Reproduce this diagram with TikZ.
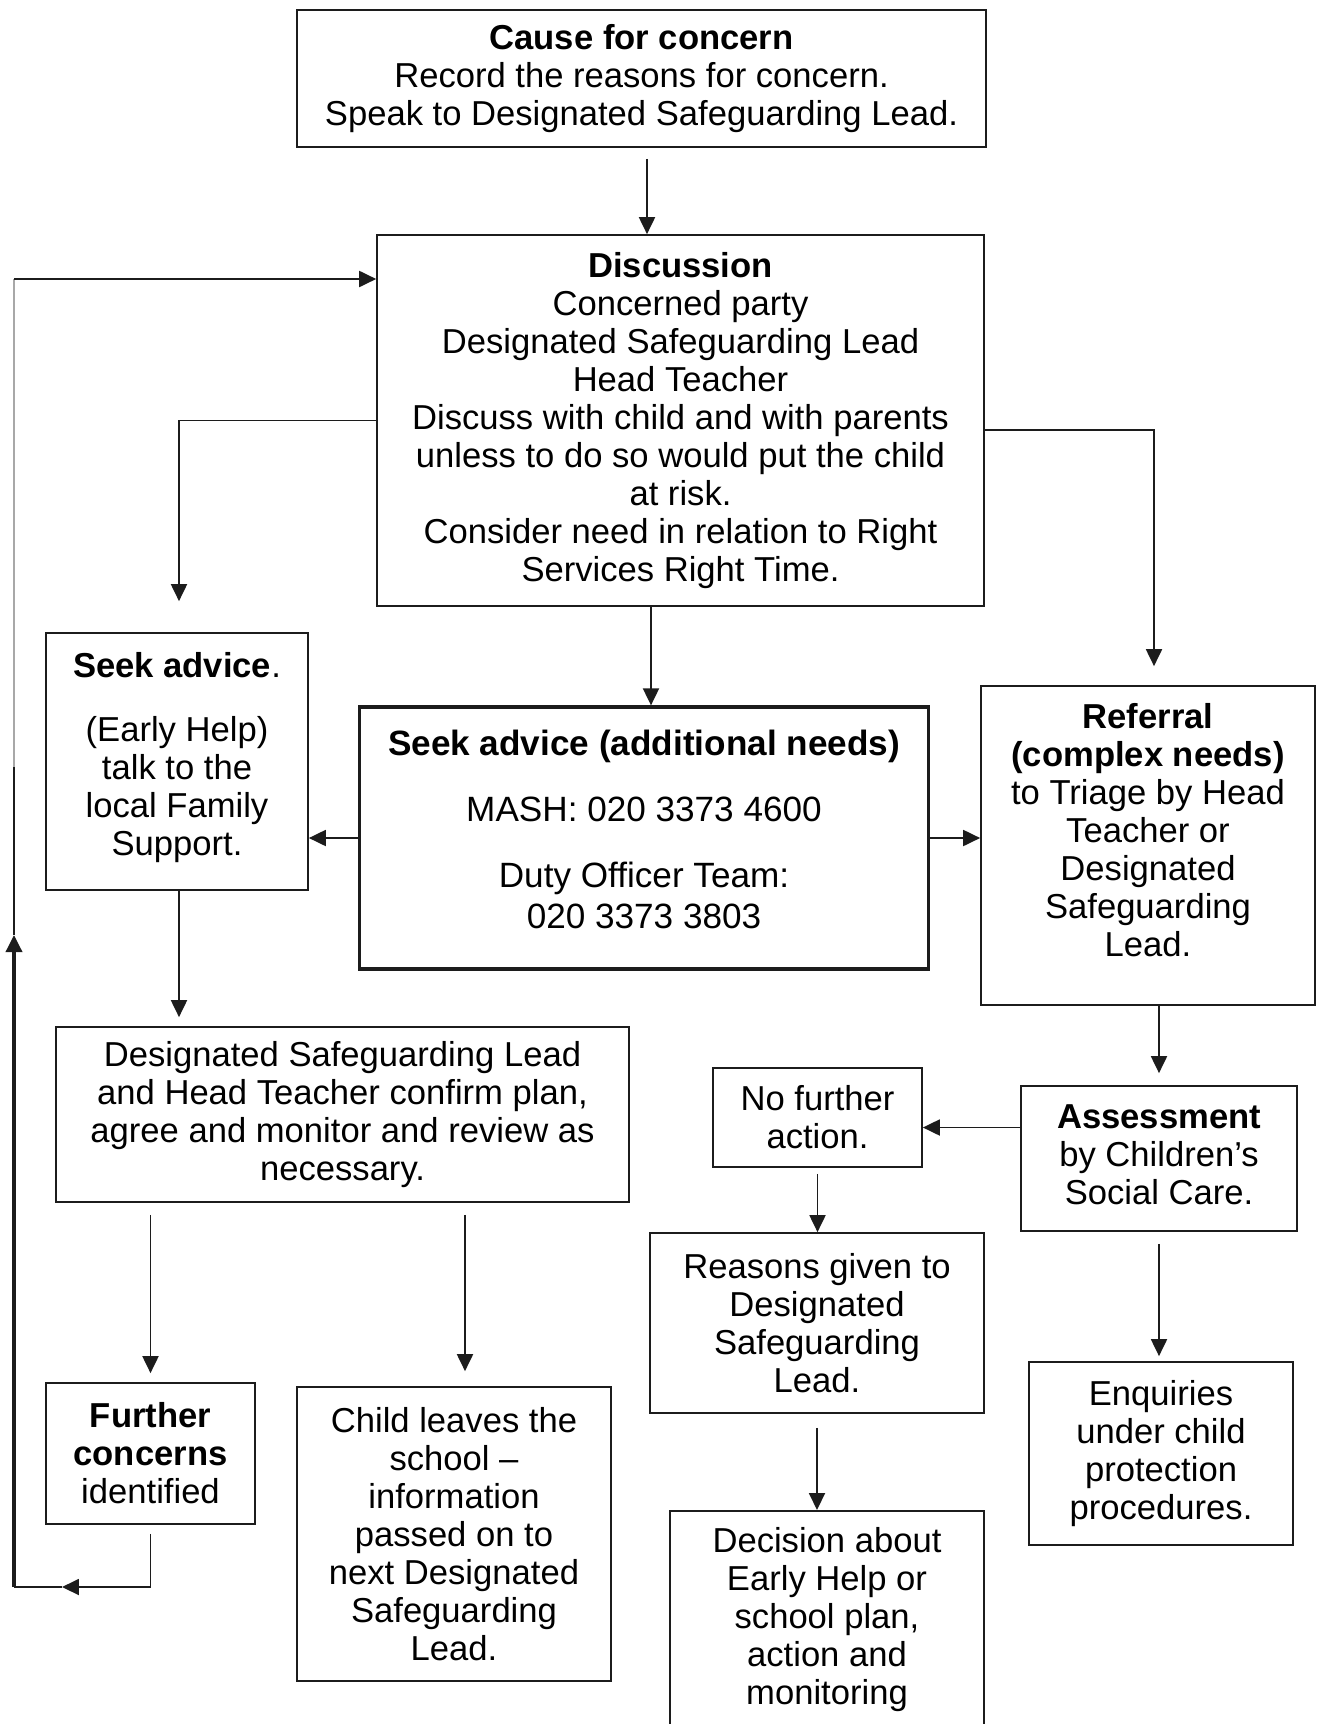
\documentclass[tikz,border=0pt]{standalone}
\usepackage{fontspec}
\setmainfont{Liberation Sans}
\usepackage{tikz}
\usetikzlibrary{arrows.meta,positioning,calc}
\definecolor{ink}{HTML}{1C1C1C}
\definecolor{loopgrey}{HTML}{A8A8A8}
\tikzset{
  flowbox/.style={
    rectangle, draw=ink, line width=1pt, fill=white,
    font=\fontsize{19.7}{21.6}\selectfont, align=center,
    inner sep=3pt
  },
  phonebox/.style={
    flowbox, line width=1.9pt,
    font=\fontsize{20}{23.2}\selectfont
  },
  flowarrow/.style={
    -{Triangle[length=0.34cm, width=0.32cm]}, line width=1.1pt, color=#1
  },
  flowarrow/.default=ink,
  flowline/.style={
    line width=1.1pt, color=#1
  },
  flowline/.default=ink,
}

\begin{document}
\begin{tikzpicture}[x=0.02cm, y=-0.02cm]
\path[use as bounding box, clip] (0,0) rectangle (1317,1724);

% Top of the flow
\node[flowbox, minimum width=13.78cm, minimum height=2.74cm] (cause) at (641.5,78.5)
  {\textbf{Cause for concern}\\Record the reasons for concern.\\Speak to Designated Safeguarding Lead.};
\node[flowbox, minimum width=12.14cm, minimum height=7.42cm] (disc) at (680.5,420.5)
  {\textbf{Discussion}\\Concerned party\\Designated Safeguarding Lead\\Head Teacher\\
   Discuss with child and with parents\\unless to do so would put the child\\at risk.\\
   Consider need in relation to Right\\Services Right Time.};

% Advice row
\node[flowbox, minimum width=5.24cm, minimum height=5.14cm] (seek) at (177,761.5)
  {\textbf{Seek advice}.\\[15pt](Early Help)\\talk to the\\local Family\\Support.\\[-13pt]\mbox{}};
\node[phonebox, minimum width=11.38cm, minimum height=5.24cm] (mash) at (644,838)
  {\textbf{Seek advice (additional needs)}\\[14.5pt]MASH: 020 3373 4600\\[14.5pt]Duty Officer Team:\\020 3373 3803\\[-13pt]\mbox{}};
\node[flowbox, minimum width=6.68cm, minimum height=6.38cm] (ref) at (1148,845.5)
  {\textbf{Referral}\\\textbf{(complex needs)}\\to Triage by Head\\Teacher or\\Designated\\Safeguarding\\Lead.\\[-4pt]\mbox{}};

% Outcomes
\node[flowbox, minimum width=11.46cm, minimum height=3.5cm] (plan) at (342.5,1114.5)
  {Designated Safeguarding Lead\\and Head Teacher confirm plan,\\agree and monitor and review as\\necessary.};
\node[flowbox, minimum width=4.18cm, minimum height=1.98cm] (nfa) at (817.5,1117.5)
  {No further\\action.};
\node[flowbox, minimum width=5.52cm, minimum height=2.9cm] (assess) at (1159,1158.5)
  {\textbf{Assessment}\\by Children’s\\Social Care.\\[-17pt]\mbox{}};
\node[flowbox, minimum width=4.18cm, minimum height=2.82cm] (fc) at (150.5,1453.5)
  {\textbf{Further}\\\textbf{concerns}\\identified};
\node[flowbox, minimum width=6.28cm, minimum height=5.88cm] (child) at (454,1534)
  {Child leaves the\\school –\\information\\passed on to\\next Designated\\Safeguarding\\Lead.};
\node[flowbox, minimum width=6.68cm, minimum height=3.6cm] (reasons) at (817,1323)
  {Reasons given to\\Designated\\Safeguarding\\Lead.};
\node[flowbox, minimum width=5.28cm, minimum height=3.66cm] (enq) at (1161,1453.5)
  {Enquiries\\under child\\protection\\procedures.};
\node[flowbox, anchor=north, minimum width=6.28cm, inner ysep=0.34cm] (decision) at (827,1510)
  {Decision about\\Early Help or\\school plan,\\action and\\monitoring\\[4.5pt]arrangements.};

% Cause down to discussion
\draw[flowarrow, shorten <=0.22cm] ([xshift=0.11cm]cause.south) -- ([xshift=0.11cm]cause.south |- disc.north);

% Discussion out to the three advice boxes
\draw[flowarrow, shorten >=0.62cm] (disc.west) -| ([xshift=0.04cm]seek.north);
\draw[flowarrow] ([xshift=0.14cm]mash.north |- disc.south) -- ([xshift=0.14cm]mash.north);
\draw[flowarrow, shorten >=0.38cm] ([yshift=-0.19cm]disc.east) -| ([xshift=0.12cm]ref.north);
\draw[flowarrow] (mash.west) -- (mash.west -| seek.east);
\draw[flowarrow] (mash.east) -- (mash.east -| ref.west);

% Left branch
\draw[flowarrow, shorten >=0.18cm] ([xshift=0.04cm]seek.south) -- ([xshift=0.04cm]seek.south |- plan.north);
\draw[flowarrow, shorten <=0.24cm, shorten >=0.18cm] (fc.north |- plan.south) -- (fc.north);
\draw[flowarrow, shorten <=0.24cm, shorten >=0.3cm] ([xshift=0.22cm]child.north |- plan.south) -- ([xshift=0.22cm]child.north);

% Right branch
\draw[flowarrow, shorten >=0.24cm] (assess.north |- ref.south) -- (assess.north);
\draw[flowarrow] ([yshift=-0.2cm]nfa.east -| assess.west) -- ([yshift=-0.2cm]nfa.east);
\draw[flowarrow, shorten <=0.24cm, shorten >=0.1cm] (assess.south) -- (assess.south |- enq.north);
\draw[flowarrow, shorten <=0.12cm] (nfa.south) -- (nfa.south |- reasons.north);
\draw[flowarrow, shorten <=0.28cm] (reasons.south) -- (reasons.south |- decision.north);

% Loop back from further concerns to discussion
\coordinate (loopmid) at (62,1587);
\coordinate (loopcorner) at (14,1587);
\coordinate (looparrow) at (14,935);
\coordinate (loopgray) at (14,767);
\coordinate (looptop) at (14,279);
\draw[flowarrow, shorten <=0.18cm] (fc.south) |- (loopmid);
\draw[flowline] (loopmid) -- (loopcorner);
\draw[flowarrow, line width=2pt] (loopcorner) -- (looparrow);
\draw[flowline] (looparrow) -- (loopgray);
\draw[flowline=loopgrey] (loopgray) -- (looptop);
\draw[flowarrow] (looptop) -- (looptop -| disc.west);

\end{tikzpicture}
\end{document}
